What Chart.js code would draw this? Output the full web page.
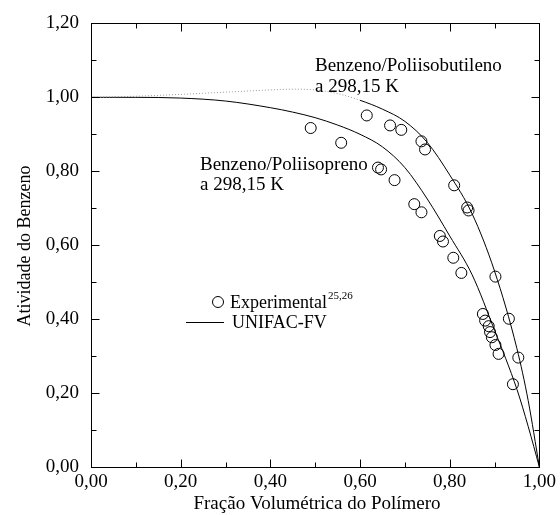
<!DOCTYPE html>
<html>
<head>
<meta charset="utf-8">
<script src="https://cdn.jsdelivr.net/npm/chart.js@4.4.1/dist/chart.umd.min.js"></script>
<style>
html,body{margin:0;padding:0;background:#fff;}
canvas{display:block;}
</style>
</head>
<body>
<canvas id="c" width="560" height="515" style="width:560px;height:515px"></canvas>
<script>
// UNIFAC-FV model curves (x = polymer volume fraction)
const curveX = [0, 0.1, 0.2, 0.3, 0.4, 0.45, 0.5, 0.55, 0.6, 0.65, 0.7, 0.75, 0.8, 0.85, 0.9, 0.95, 0.975, 1.0];
const pibCurve = [1.0, 1.003, 1.008, 1.014, 1.02, 1.022, 1.02, 1.01, 0.992, 0.968, 0.935, 0.878, 0.79, 0.685, 0.53, 0.32, 0.18, 0.0];
const piCurve  = [1.0, 1.0, 0.998, 0.99, 0.972, 0.96, 0.945, 0.925, 0.9, 0.866, 0.81, 0.725, 0.625, 0.52, 0.37, 0.21, 0.11, 0.0];

// Experimental points
const pibExpX = [0.615, 0.667, 0.692, 0.737, 0.745, 0.810, 0.839, 0.842, 0.902, 0.932, 0.953];
const pibExpY = [0.951, 0.924, 0.912, 0.881, 0.859, 0.762, 0.702, 0.694, 0.515, 0.401, 0.296];
const piExpX = [0.490, 0.558, 0.640, 0.647, 0.677, 0.721, 0.737, 0.778, 0.785, 0.808, 0.826, 0.874, 0.879, 0.887, 0.890, 0.894, 0.902, 0.909, 0.941];
const piExpY = [0.917, 0.877, 0.810, 0.805, 0.776, 0.711, 0.689, 0.625, 0.610, 0.566, 0.525, 0.414, 0.396, 0.381, 0.365, 0.351, 0.330, 0.306, 0.224];

const xTicks = [0, 0.2, 0.4, 0.6, 0.8, 1.0];
const yTicks = [0, 0.2, 0.4, 0.6, 0.8, 1.0, 1.2];
const dottedLimit = 0.6;

const FONT = '"Liberation Serif", "Times New Roman", serif';
const FS = 19;
const fmt = v => v.toFixed(2).replace('.', ',');
const pts = (xs, ys) => xs.map((x, i) => ({x: x, y: ys[i]}));

const decor = {
  id: 'decor',
  afterDraw(chart) {
    const ctx = chart.ctx, a = chart.chartArea;
    const sx = chart.scales.x, sy = chart.scales.y;
    ctx.save();
    ctx.strokeStyle = '#000';
    ctx.lineWidth = 1;
    const L = Math.round(a.left) + 0.5, R = Math.round(a.right) + 0.5;
    const T = Math.round(a.top) + 0.5, B = Math.round(a.bottom) + 0.5;
    ctx.strokeRect(L, T, R - L, B - T);
    ctx.beginPath();
    for (let i = 0; i <= 10; i++) {
      const v = i / 10;
      const px = Math.round(sx.getPixelForValue(v)) + 0.5;
      const len = (i % 2 === 0) ? 8 : 5;
      ctx.moveTo(px, B); ctx.lineTo(px, B - len);
      ctx.moveTo(px, T); ctx.lineTo(px, T + len);
    }
    for (let i = 0; i <= 12; i++) {
      const v = i / 10;
      const py = Math.round(sy.getPixelForValue(v)) + 0.5;
      const len = (i % 2 === 0) ? 8 : 5;
      ctx.moveTo(L, py); ctx.lineTo(L + len, py);
      ctx.moveTo(R, py); ctx.lineTo(R - len, py);
    }
    ctx.stroke();

    ctx.fillStyle = '#000';
    ctx.font = FS + 'px ' + FONT;
    ctx.textBaseline = 'middle';
    ctx.textAlign = 'left';
    ctx.fillText('Benzeno/Poliisobutileno', 315, 66);
    ctx.fillText('a 298,15 K', 315, 87);
    ctx.fillText('Benzeno/Poliisopreno', 200, 165);
    ctx.fillText('a 298,15 K', 200, 185);

    // legend
    ctx.beginPath();
    ctx.arc(218, 302, 5.5, 0, Math.PI * 2);
    ctx.stroke();
    ctx.font = '18px ' + FONT;
    ctx.fillText('Experimental', 230, 303);
    const w = ctx.measureText('Experimental').width;
    ctx.font = '11px ' + FONT;
    ctx.fillText('25,26', 230 + w + 1, 296);
    ctx.font = '18px ' + FONT;
    ctx.beginPath();
    ctx.moveTo(186, 322.5); ctx.lineTo(224, 322.5);
    ctx.stroke();
    ctx.fillText('UNIFAC-FV', 232, 323);

    // axis titles
    ctx.font = FS + 'px ' + FONT;
    ctx.textAlign = 'center';
    ctx.fillText('Fração Volumétrica do Polímero', 317, 504);
    ctx.translate(25, 246);
    ctx.rotate(-Math.PI / 2);
    ctx.font = '18px ' + FONT;
    ctx.fillText('Atividade do Benzeno', 0, 0);
    ctx.restore();
  }
};

new Chart(document.getElementById('c'), {
  type: 'scatter',
  data: {
    datasets: [
      {
        label: 'UNIFAC-FV PIB',
        type: 'line',
        data: pts(curveX, pibCurve),
        borderColor: '#000',
        borderWidth: 1,
        pointRadius: 0,
        fill: false,
        cubicInterpolationMode: 'monotone',
        segment: {
          borderDash: c => (c.p1.parsed.x <= dottedLimit ? [1, 2] : undefined),
          borderColor: c => (c.p1.parsed.x <= dottedLimit ? '#999' : '#000')
        }
      },
      {
        label: 'UNIFAC-FV PI',
        type: 'line',
        data: pts(curveX, piCurve),
        borderColor: '#000',
        borderWidth: 1,
        pointRadius: 0,
        fill: false,
        cubicInterpolationMode: 'monotone'
      },
      {
        label: 'Experimental PIB',
        data: pts(pibExpX, pibExpY),
        pointRadius: 5.5,
        pointBorderColor: '#000',
        pointBackgroundColor: 'rgba(0,0,0,0)',
        pointBorderWidth: 1
      },
      {
        label: 'Experimental PI',
        data: pts(piExpX, piExpY),
        pointRadius: 5.5,
        pointBorderColor: '#000',
        pointBackgroundColor: 'rgba(0,0,0,0)',
        pointBorderWidth: 1
      }
    ]
  },
  options: {
    responsive: false,
    animation: false,
    devicePixelRatio: 1,
    layout: {padding: {left: 0, right: 18, top: 19, bottom: 0}},
    plugins: {legend: {display: false}, tooltip: {enabled: false}},
    scales: {
      x: {
        type: 'linear', min: 0, max: 1,
        afterBuildTicks: s => { s.ticks = xTicks.map(v => ({value: v})); },
        ticks: {callback: v => fmt(v), color: '#000', font: {family: FONT, size: FS}, padding: 4, maxRotation: 0},
        grid: {display: false, drawTicks: false},
        border: {display: false},
        afterFit: s => { s.height = 48; }
      },
      y: {
        type: 'linear', min: 0, max: 1.2,
        afterBuildTicks: s => { s.ticks = yTicks.map(v => ({value: v})); },
        ticks: {callback: v => fmt(v), color: '#000', font: {family: FONT, size: FS}, padding: 12},
        grid: {display: false, drawTicks: false},
        border: {display: false},
        afterFit: s => { s.width = 91; }
      }
    }
  },
  plugins: [decor]
});
</script>
</body>
</html>
